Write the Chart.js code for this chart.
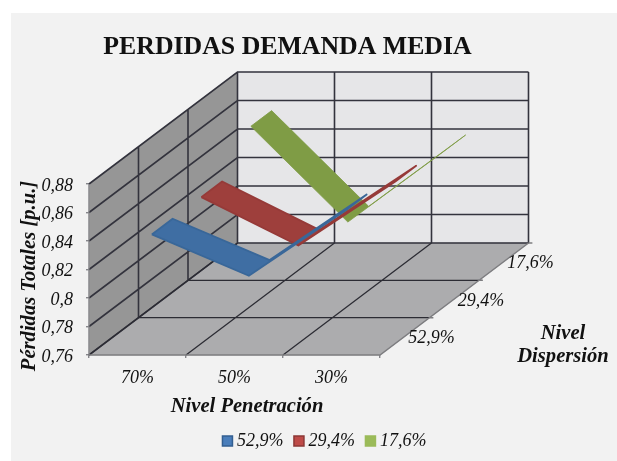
<!DOCTYPE html>
<html><head><meta charset="utf-8">
<style>html,body{margin:0;padding:0;background:#fff}canvas{display:block}</style>
<script src="https://cdn.jsdelivr.net/npm/chart.js@4"></script>
</head><body><div style="width:617px;height:461px"><canvas id="c" width="617" height="461"></canvas></div>
<script>
const chartTitle = 'PERDIDAS DEMANDA MEDIA';
const penetration = ['70%', '50%', '30%'];
const dispersion = ['52,9%', '29,4%', '17,6%'];
const valueTicks = [0.76, 0.78, 0.80, 0.82, 0.84, 0.86, 0.88];
const serie529 = [0.837, 0.808, 0.854];
const serie294 = [0.837, 0.803, 0.848];
const serie176 = [0.8605, 0.7933, 0.8434];
const serieFills = ['#3f6ea3', '#9e3f3c', '#7f9c45'];
const serieEdges = ['#396799', '#963a38', '#7f9c45'];
const legendFills = ['#4a7ebb', '#be4b48', '#9bbb59'];
const legendEdges = ['#335f91', '#8c3836', '#9bbb59'];

const SERIF = '"Liberation Serif","Times New Roman",serif';
const vMin = valueTicks[0], vTop = valueTicks[valueTicks.length - 1];
const nC = penetration.length, nD = dispersion.length;
// oblique projection: depth slides a point right (in category units) and up (in value units)
const DX = 0.5103, DY = 0.0262, HALF = 0.21;
const P = (c, d, v) => ({x: c + d * DX, y: v + d * DY});
const poly = (pts) => pts.concat([pts[0]]);

const series = [serie529, serie294, serie176];
const ds = [];
function add(o) { ds.push(Object.assign({showLine: true, pointRadius: 0, borderWidth: 0, clip: false, fill: false, tension: 0, spanGaps: false}, o)); }
function area(pts, color) { add({label: '', data: poly(pts), fill: 'shape', backgroundColor: color, borderColor: color, borderWidth: 0.5}); }
const GAP = {x: NaN, y: NaN};

// walls and floor
area([P(0, nD, vMin), P(nC, nD, vMin), P(nC, nD, vTop), P(0, nD, vTop)], '#e6e6e8');
area([P(0, 0, vMin), P(0, nD, vMin), P(0, nD, vTop), P(0, 0, vTop)], '#969696');
area([P(0, 0, vMin), P(nC, 0, vMin), P(nC, nD, vMin), P(0, nD, vMin)], '#acacae');

// gridlines on the walls
const wall = [];
valueTicks.forEach(v => { wall.push(P(0, 0, v), P(0, nD, v), P(nC, nD, v), GAP); });
for (let c = 1; c <= nC; c++) wall.push(P(c, nD, vMin), P(c, nD, vTop), GAP);
for (let d = 1; d < nD; d++) wall.push(P(0, d, vMin), P(0, d, vTop), GAP);
wall.push(P(0, nD, vMin), P(0, nD, vTop), GAP);
add({label: '', data: wall, borderColor: '#33333d', borderWidth: 1.6});

// gridlines on the floor
const floor = [];
for (let d = 1; d < nD; d++) floor.push(P(0, d, vMin), P(nC, d, vMin), GAP);
for (let c = 0; c < nC; c++) floor.push(P(c, 0, vMin), P(c, nD, vMin), GAP);
add({label: '', data: floor, borderColor: '#2c2c34', borderWidth: 1.3});

// floor rim
const rim = [P(0, 0, vMin), P(nC, 0, vMin), P(nC, nD, vMin), GAP];
for (let d = 1; d <= nD; d++) rim.push(P(nC, d, vMin), P(nC + 0.04, d, vMin), GAP);
add({label: '', data: rim, borderColor: '#7d7d80', borderWidth: 1.5});
add({label: '', data: [P(0, 0, vMin), P(0, 0, vTop)], borderColor: '#85858a', borderWidth: 1});

// ribbons, back to front
[2, 1, 0].forEach(s => {
  const front = series[s].map((v, i) => P(i + 0.5, s + 0.5 - HALF, v));
  const back = series[s].map((v, i) => P(i + 0.5, s + 0.5 + HALF, v)).reverse();
  add({label: dispersion[s], data: poly(front.concat(back)), fill: 'shape',
       backgroundColor: serieFills[s], borderColor: serieEdges[s], borderWidth: s === 2 ? 0.8 : 1.8, borderJoinStyle: 'round'});
});
ds.forEach((d, i) => { d.order = ds.length - i; });

const decor = {
  id: 'decor',
  beforeDraw(ch) {
    const g = ch.ctx;
    g.save(); g.fillStyle = '#f2f2f2'; g.fillRect(11, 13, 606, 448); g.restore();
  },
  afterDraw(ch) {
    const g = ch.ctx, sx = ch.scales.x, sy = ch.scales.y;
    g.save();
    g.fillStyle = '#111'; g.textBaseline = 'middle';
    g.textAlign = 'center';
    g.font = 'bold 25.8px ' + SERIF;
    g.fillText(chartTitle, 287.5, 47);
    g.font = 'italic bold 20.6px ' + SERIF;
    g.fillText('Nivel Penetración', 247, 407);
    g.fillText('Nivel', 563, 334);
    g.fillText('Dispersión', 563, 357);
    g.save(); g.translate(30, 276); g.rotate(-Math.PI / 2);
    g.fillText('Pérdidas Totales [p.u.]', 0, 0); g.restore();
    g.textAlign = 'left';
    g.font = 'italic 18px ' + SERIF;
    dispersion.forEach((t, d) => {
      const p = P(nC, d + 0.5, vMin);
      g.fillText(t, sx.getPixelForValue(p.x) + 3.5, sy.getPixelForValue(p.y) + 2);
    });
    g.restore();
  }
};

const PAD_B = 1;
new Chart(document.getElementById('c'), {
  type: 'scatter',
  data: {datasets: ds},
  plugins: [decor],
  options: {
    responsive: false, animation: false, events: [],
    layout: {padding: {left: 40.6, right: 4.2, top: 72, bottom: PAD_B}},
    scales: {
      x: {
        type: 'linear', min: 0, max: 5.4,
        afterBuildTicks(s) { s.ticks = [0, .5, 1, 1.5, 2, 2.5, 3].map(v => ({value: v})); },
        afterFit(s) { s.height = 461 - 355 - PAD_B - (s.chart.legend ? s.chart.legend.height : 0); },
        border: {display: false},
        grid: {drawOnChartArea: false, tickLength: 3, lineWidth: 1.4, color: 'transparent',
               tickColor: c => (c.tick && Number.isInteger(c.tick.value)) ? '#85858a' : 'transparent'},
        ticks: {autoSkip: false, maxRotation: 0, minRotation: 0, padding: 9, color: '#111',
                font: {family: SERIF, style: 'italic', size: 18},
                callback: v => Number.isInteger(v) ? '' : penetration[Math.floor(v)]}
      },
      y: {
        type: 'linear', min: vMin, max: vMin + (vTop - vMin) + nD * DY,
        afterBuildTicks(s) { s.ticks = valueTicks.map(v => ({value: v})); },
        afterFit(s) { s.width = 48.4; },
        border: {display: false},
        grid: {drawOnChartArea: false, tickLength: 3, lineWidth: 1.4, color: 'transparent', tickColor: '#85858a'},
        ticks: {padding: 13, labelOffset: 2, color: '#111', font: {family: SERIF, style: 'italic', size: 18},
                callback: v => String(+v.toFixed(2)).replace('.', ',')}
      }
    },
    plugins: {
      tooltip: {enabled: false},
      title: {display: false},
      legend: {
        display: true, position: 'bottom',
        labels: {
          usePointStyle: true, boxWidth: 1, boxHeight: 10, padding: 15, color: '#111',
          font: {family: SERIF, style: 'italic', size: 18},
          generateLabels: () => dispersion.map((t, i) => ({
            text: t, fillStyle: legendFills[i], strokeStyle: legendEdges[i], lineWidth: 1.5, fontColor: '#111', hidden: false, pointStyle: 'rect'
          }))
        }
      }
    }
  }
});
</script></body></html>
